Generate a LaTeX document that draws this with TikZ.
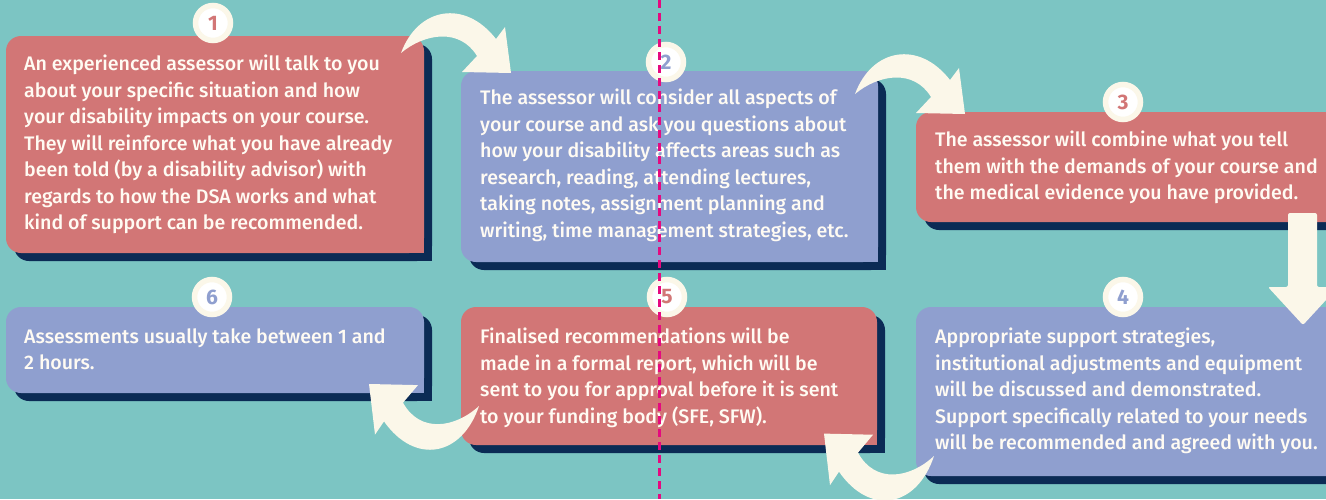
\documentclass[tikz,border=0pt]{standalone}
\usepackage{fontspec}
\setmainfont{Fira Sans}[UprightFont={* Medium}, BoldFont={* Bold}]
\definecolor{bg}{HTML}{7CC5C3}
\definecolor{boxred}{HTML}{D27676}
\definecolor{boxblue}{HTML}{8F9FCF}
\definecolor{navy}{HTML}{0B2B55}
\definecolor{cream}{HTML}{FBF7E9}
\definecolor{pinkline}{HTML}{E5097F}
\definecolor{txt}{HTML}{FFFBF3}
\newcommand{\flowbox}[5]{%
  \fill[navy,rounded corners=15pt] (#1+8,#2+8) rectangle (#3+8,#4+8);
  \fill[navy] ({(#1+#3)/2+8},{(#2+#4)/2+8}) rectangle (#3+8,#4+8);
  \fill[#5,rounded corners=15pt] (#1,#2) rectangle (#3,#4);
  \fill[#5] ({(#1+#3)/2},{(#2+#4)/2}) rectangle (#3,#4);
}
\tikzset{
  txtnode/.style={anchor=north west, inner sep=0pt, align=left, text=txt,
    font=\fontsize{19.6}{26.5}\selectfont},
  numcircle/.style={circle, fill=white, draw=cream, line width=5.5pt,
    minimum size=35pt, inner sep=0pt, font=\bfseries\fontsize{21}{21}\selectfont},
  curvedarrow/.pic={
    \fill[cream, line join=round] (0,0) .. controls (17,-46) and (64,-54) .. (95,-14)
      -- (104,-26) -- (110,20) -- (61,19) -- (76,3)
      .. controls (59,-25) and (24,-20) .. (0,0) -- cycle;
  },
}
\begin{document}
\begin{tikzpicture}[x=1pt,y=-1pt]
\useasboundingbox (0,0) rectangle (1326,499);
\clip (0,0) rectangle (1326,499);
\fill[bg] (0,0) rectangle (1326,499);

% boxes with shadows
\flowbox{6}{36}{424}{253}{boxred}
\flowbox{461}{71}{878}{262}{boxblue}
\flowbox{916}{112}{1345}{222}{boxred}
\flowbox{916}{307}{1345}{476}{boxblue}
\flowbox{461}{307}{877}{445}{boxred}
\flowbox{6}{307}{424}{393}{boxblue}

% texts
\node[txtnode] (t1) at (24,55) {\rule{0pt}{15pt}An experienced assessor will talk to you\\
about your specific situation and how\\
your disability impacts on your course.\\
They will reinforce what you have already\\
been told (by a disability advisor) with\\
regards to how the DSA works and what\\
kind of support can be recommended.};
\node[txtnode] (t2) at (480,89) {\rule{0pt}{15pt}The assessor will consider all aspects of\\
your course and ask you questions about\\
how your disability affects areas such as\\
research, reading, attending lectures,\\
taking notes, assignment planning and\\
writing, time management strategies, etc.};
\node[txtnode] (t3) at (935,131) {\rule{0pt}{15pt}The assessor will combine what you tell\\
them with the demands of your course and\\
the medical evidence you have provided.};
\node[txtnode] (t4) at (935,328) {\rule{0pt}{15pt}Appropriate support strategies,\\
institutional adjustments and equipment\\
will be discussed and demonstrated.\\
Support specifically related to your needs\\
will be recommended and agreed with you.};
\node[txtnode] (t5) at (480,328) {\rule{0pt}{15pt}Finalised recommendations will be\\
made in a formal report, which will be\\
sent to you for approval before it is sent\\
to your funding body (SFE, SFW).};
\node[txtnode] (t6) at (24,328) {\rule{0pt}{15pt}Assessments usually take between 1 and\\
2 hours.};

% arrows
\pic at (401,53) {curvedarrow};
\pic at (855,94) {curvedarrow};
\fill[cream, rounded corners=2pt] (1288,213) -- (1317,213) -- (1317,287) -- (1338,287)
  -- (1303,325) -- (1268,287) -- (1288,287) -- cycle;
\pic[rotate=180, yscale=1.12] at (934,456) {curvedarrow};
\pic[rotate=180, yscale=1.1] at (479,406) {curvedarrow};

% number circles
\node[numcircle, text=boxred] (n1) at (213,23) {1};
\node[numcircle, text=boxblue] (n2) at (666,62) {2};
\node[numcircle, text=boxred] (n3) at (1123,102) {3};
\node[numcircle, text=boxblue] (n4) at (1123,297) {4};
\node[numcircle, text=boxred] (n5) at (667,297) {5};
\node[numcircle, text=boxblue] (n6) at (212,297) {6};

% dashed divider
\coordinate (dtop) at (659,0);
\coordinate (dbot) at (659,499);
\draw[pinkline, line width=3pt, dash pattern=on 8pt off 5pt] (dtop) -- (dbot);
\end{tikzpicture}
\end{document}
